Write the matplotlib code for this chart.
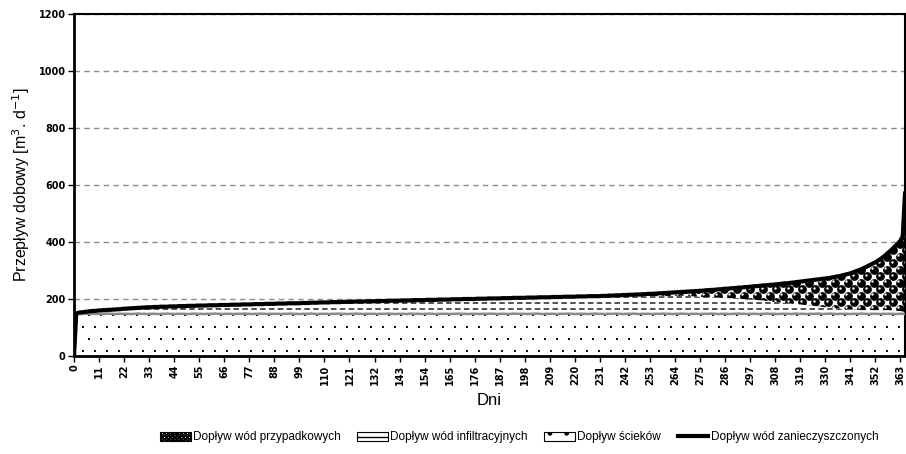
import numpy as np
import matplotlib
matplotlib.use('Agg')
import matplotlib.pyplot as plt
from matplotlib.patches import Patch
from matplotlib.lines import Line2D

# ---------------- data (daily flows sorted by total, m3/d) ----------------
days = list(range(366))

total = [
    0,
    150, 152, 153, 154, 155, 156, 157, 158, 158, 159,
    160, 160, 161, 161, 162, 162, 163, 163, 164, 164, 165,
    166, 166, 167, 167, 168, 168, 169, 169, 170, 170, 171,
    171, 171, 172, 172, 172, 173, 173, 173, 173, 174, 174,
    174, 174, 175, 175, 175, 175, 176, 176, 176, 176, 177,
    177, 177, 177, 177, 178, 178, 178, 178, 178, 179, 179,
    179, 179, 179, 180, 180, 180, 180, 180, 181, 181, 181,
    181, 181, 182, 182, 182, 182, 182, 183, 183, 183, 183,
    183, 184, 184, 184, 184, 184, 185, 185, 185, 185, 185,
    185, 186, 186, 186, 186, 187, 187, 187, 187, 188, 188,
    188, 188, 188, 189, 189, 189, 189, 189, 190, 190, 190,
    190, 190, 191, 191, 191, 191, 191, 192, 192, 192, 192,
    192, 193, 193, 193, 193, 193, 194, 194, 194, 194, 194,
    194, 195, 195, 195, 195, 195, 196, 196, 196, 196, 196,
    196, 197, 197, 197, 197, 197, 198, 198, 198, 198, 198,
    198, 199, 199, 199, 199, 199, 200, 200, 200, 200, 200,
    200, 201, 201, 201, 201, 201, 202, 202, 202, 202, 202,
    202, 203, 203, 203, 203, 203, 204, 204, 204, 204, 204,
    204, 205, 205, 205, 205, 205, 206, 206, 206, 206, 206,
    206, 207, 207, 207, 207, 207, 208, 208, 208, 208, 208,
    208, 209, 209, 209, 209, 209, 210, 210, 210, 210, 210,
    210, 211, 211, 211, 212, 212, 212, 213, 213, 213, 214,
    214, 214, 215, 215, 215, 216, 216, 216, 217, 217, 218,
    218, 218, 219, 219, 220, 220, 221, 221, 222, 222, 223,
    223, 224, 224, 225, 225, 226, 226, 227, 227, 228, 228,
    229, 229, 230, 231, 231, 232, 232, 233, 234, 234, 235,
    236, 236, 237, 238, 238, 239, 240, 240, 241, 242, 242,
    243, 244, 245, 245, 246, 247, 248, 248, 249, 250, 250,
    251, 252, 253, 254, 255, 255, 256, 257, 258, 259, 260,
    261, 262, 263, 264, 265, 266, 267, 268, 269, 270, 271,
    272, 273, 274, 276, 277, 279, 280, 282, 284, 286, 288,
    290, 293, 296, 299, 302, 305, 309, 313, 317, 321, 325,
    329, 334, 339, 345, 351, 358, 365,
    372, 380, 388, 395, 405, 420, 570,
]

sewage = [
    0,
    148, 148, 147, 148, 148, 148, 147, 148, 148, 148,
    148, 147, 148, 148, 149, 148, 148, 147, 148, 148, 148,
    148, 148, 148, 147, 148, 148, 149, 148, 148, 148, 147,
    148, 148, 148, 148, 147, 148, 148, 148, 149, 148, 148,
    147, 148, 148, 148, 148, 148, 147, 148, 148, 149, 148,
    148, 148, 147, 148, 148, 148, 148, 149, 148, 148, 147,
    148, 148, 148, 148, 147, 148, 148, 148, 148, 149, 148,
    148, 147, 148, 148, 148, 149, 148, 148, 147, 148, 148,
    148, 148, 148, 147, 148, 148, 148, 149, 148, 148, 148,
    147, 148, 148, 148, 148, 149, 148, 148, 147, 148, 148,
    148, 148, 147, 148, 148, 148, 149, 148, 148, 148, 147,
    148, 148, 148, 149, 148, 148, 147, 148, 148, 148, 148,
    148, 147, 148, 148, 148, 148, 149, 148, 148, 147, 148,
    148, 148, 148, 147, 148, 149, 148, 148, 148, 148, 147,
    148, 148, 149, 148, 148, 147, 148, 148, 148, 148, 148,
    147, 148, 148, 148, 149, 148, 148, 148, 147, 148, 148,
    148, 148, 147, 148, 148, 148, 148, 149, 148, 148, 147,
    148, 148, 148, 148, 147, 148, 149, 148, 148, 148, 148,
    148, 147, 148, 148, 148, 149, 148, 148, 147, 148, 148,
    148, 148, 148, 147, 148, 148, 148, 148, 149, 148, 148,
    147, 148, 148, 148, 148, 148, 147, 148, 148, 149, 148,
    148, 148, 147, 148, 148, 148, 148, 149, 148, 148, 147,
    148, 148, 148, 148, 149, 148, 147, 148, 148, 148, 148,
    148, 147, 148, 148, 148, 148, 149, 148, 148, 148, 147,
    148, 148, 148, 149, 148, 148, 147, 148, 148, 148, 148,
    147, 148, 148, 148, 148, 149, 148, 148, 147, 148, 148,
    148, 148, 147, 148, 148, 148, 149, 148, 148, 148, 147,
    148, 148, 148, 148, 147, 148, 148, 149, 148, 148, 148,
    148, 147, 148, 148, 148, 148, 148, 147, 148, 149, 148,
    148, 148, 148, 147, 148, 148, 148, 148, 149, 148, 147,
    148, 148, 149, 148, 148, 147, 148, 148, 148, 148, 148,
    147, 148, 148, 148, 148, 149, 148, 148, 147, 148, 148,
    148, 148, 147, 148, 148, 148, 148,
    148, 148, 147, 148, 148, 148, 148,
]

rain = [
    0,
    0, 0, 0, 0, 0, 0, 0, 0, 0, 0,
    0, 0, 0, 0, 0, 0, 0, 0, 0, 0, 0,
    0, 0, 0, 0, 0, 0, 0, 0, 0, 0, 0,
    0, 0, 0, 0, 0, 0, 0, 0, 0, 0, 0,
    0, 0, 0, 0, 0, 0, 0, 0, 0, 0, 0,
    0, 0, 0, 0, 0, 0, 0, 0, 0, 0, 0,
    0, 0, 0, 0, 0, 0, 0, 0, 0, 0, 0,
    0, 0, 0, 0, 0, 0, 0, 0, 0, 0, 0,
    0, 0, 0, 0, 0, 0, 0, 0, 0, 0, 0,
    0, 0, 0, 0, 0, 0, 0, 0, 0, 0, 0,
    0, 0, 0, 0, 0, 0, 0, 0, 0, 0, 0,
    0, 0, 0, 0, 0, 0, 0, 0, 0, 0, 0,
    0, 0, 0, 0, 0, 0, 0, 0, 0, 0, 0,
    0, 0, 0, 0, 0, 0, 0, 0, 0, 0, 0,
    0, 0, 0, 0, 0, 0, 0, 0, 0, 0, 0,
    0, 0, 0, 0, 0, 0, 0, 0, 0, 0, 0,
    0, 0, 0, 0, 0, 0, 0, 0, 0, 0, 0,
    0, 0, 0, 0, 0, 0, 0, 0, 0, 0, 0,
    0, 0, 0, 0, 0, 0, 0, 0, 0, 0, 0,
    0, 0, 0, 0, 0, 0, 0, 0, 0, 0, 0,
    0, 0, 0, 0, 0, 0, 0, 0, 1, 1, 1,
    1, 1, 1, 2, 2, 2, 2, 3, 3, 3, 4,
    4, 4, 5, 5, 5, 6, 6, 7, 7, 8, 8,
    8, 9, 9, 9, 10, 10, 11, 11, 11, 12, 12,
    12, 13, 13, 13, 14, 15, 16, 17, 18, 19, 20,
    21, 22, 23, 24, 25, 26, 27, 28, 29, 30, 31,
    32, 33, 34, 35, 37, 38, 39, 40, 41, 43, 44,
    45, 46, 47, 49, 50, 52, 53, 55, 57, 58, 60,
    61, 63, 65, 66, 68, 70, 72, 73, 75, 77, 79,
    80, 82, 84, 86, 87, 89, 91, 93, 95, 97, 99,
    101, 103, 105, 107, 109, 111, 113, 116, 118, 121, 124,
    127, 130, 133, 136, 140, 144, 148, 152, 156, 160, 164,
    168, 173, 178, 184, 190, 197, 204,
    212, 220, 229, 237, 247, 264, 415,
]

# infiltration is what remains of the total after sewage and rain water
infiltration = [t - s - r for t, s, r in zip(total, sewage, rain)]

yticks = [0, 200, 400, 600, 800, 1000, 1200]
xticks = list(range(0, 364, 11))

labels = ['Dopływ wód przypadkowych', 'Dopływ wód infiltracyjnych',
          'Dopływ ścieków', 'Dopływ wód zanieczyszczonych']

# ---------------- figure ----------------
plt.rcParams['font.family'] = ['Liberation Sans', 'DejaVu Sans']
fig = plt.figure(figsize=(9.06, 4.54), dpi=100)
ax = fig.add_axes([74/906, 1-356/454, (905-74)/906, (356-14)/454])

x = np.array(days)
s = np.array(sewage, float)
i = np.array(infiltration, float)
r = np.array(rain, float)
c1 = s
c2 = s + i
c3 = s + i + r

f_s = ax.fill_between(x, 0, c1, facecolor='white', edgecolor='none', zorder=2)
f_i = ax.fill_between(x, c1, c2, facecolor='white', edgecolor='none', zorder=2)
f_r = ax.fill_between(x, c2, c3, facecolor='white', edgecolor='none', zorder=2)

W, H = 831.0, 342.0
# dotted pattern (sewage), pixel aligned
pts = []
for k, yy in enumerate(np.arange(5.5, H, 12.0)):
    off = 0 if k % 2 == 0 else 6
    for xx in np.arange(8.5 + off, W, 12.0):
        pts.append((xx / W, yy / H))
pts = np.array(pts)
sc = ax.scatter(pts[:, 0], pts[:, 1], s=1.6, marker='s', color='#111111',
                transform=ax.transAxes, zorder=3, linewidths=0)
sc.set_clip_path(f_s.get_paths()[0], ax.transData)

# dashed pattern (infiltration)
for yy in np.arange(47.5 - 6 * 7, H, 6.0):
    ln, = ax.plot([0, 1], [yy / H, yy / H], transform=ax.transAxes,
                  color='#222222', lw=1.1, dashes=(3.6, 2.2), zorder=3)
    ln.set_clip_path(f_i.get_paths()[0], ax.transData)

# ball pattern (rain water)
pts = []
for k, yy in enumerate(np.arange(2, H, 6.5)):
    off = 0 if k % 2 == 0 else 6.5
    for xx in np.arange(off, W + 7, 13.0):
        pts.append((xx / W, yy / H))
pts = np.array(pts)
sc2 = ax.scatter(pts[:, 0], pts[:, 1], s=40, marker='o', color='black',
                 transform=ax.transAxes, zorder=3, linewidths=0)
sc2.set_clip_path(f_r.get_paths()[0], ax.transData)
sc3 = ax.scatter(pts[:, 0] - 1.5 / W, pts[:, 1] + 1.5 / H, s=3, marker='o',
                 color='white', transform=ax.transAxes, zorder=3, linewidths=0)
sc3.set_clip_path(f_r.get_paths()[0], ax.transData)

ax.plot(x, c1, color='#8a8a8a', lw=1.8, zorder=4)
ax.plot(x, total, color='black', lw=3.0, zorder=5, solid_joinstyle='round')

ax.set_xlim(0, 365)
ax.set_ylim(0, 1200)
ax.set_yticks(yticks)
ax.set_xticks(xticks)
ax.set_yticklabels([str(v) for v in yticks], fontsize=7, fontweight='bold',
                   family='DejaVu Sans')
ax.set_xticklabels([str(v) for v in xticks], fontsize=7, fontweight='bold',
                   family='DejaVu Sans', rotation=90)
ax.tick_params(axis='both', direction='out', length=4, width=1, colors='black', pad=2)

ax.yaxis.grid(True, color='#8c8c8c', linestyle=(0, (4, 3)), lw=1)
ax.set_axisbelow(True)
for side in ['left', 'bottom']:
    ax.spines[side].set_linewidth(2)
for side in ['top', 'right']:
    ax.spines[side].set_linewidth(1.5)

ax.set_ylabel('Przepływ dobowy [m$^{3}$. d$^{-1}$]', fontsize=11.5, labelpad=5)
ax.set_xlabel('Dni', fontsize=12, labelpad=6)

handles = [
    Patch(facecolor='white', edgecolor='black', hatch='OOOO', lw=0.8),
    Patch(facecolor='white', edgecolor='black', hatch='--', lw=0.8),
    Patch(facecolor='white', edgecolor='black', hatch='.', lw=0.8),
    Line2D([], [], color='black', lw=3),
]
fig.legend(handles, labels, loc='center', bbox_to_anchor=(0.573, 0.037),
           ncol=4, frameon=False, fontsize=8.5, handlelength=2.6,
           handleheight=0.8, handletextpad=0.2, columnspacing=1.4)

fig.savefig('out.png', dpi=100)
